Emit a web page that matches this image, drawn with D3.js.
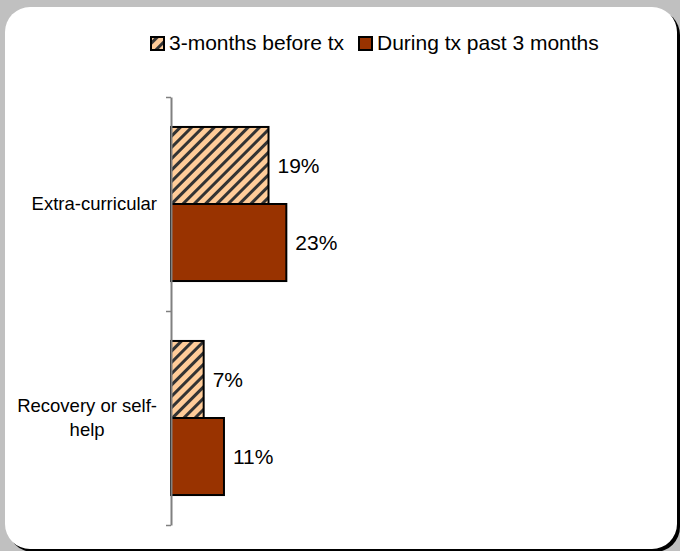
<!DOCTYPE html>
<html><head><meta charset="utf-8">
<script src="https://cdn.jsdelivr.net/npm/d3@7"></script>
<style>
html,body{margin:0;padding:0;background:#c0c0c0;}
svg{display:block;font-family:"Liberation Sans",Arial,sans-serif;}
</style></head>
<body>
<svg id="chart" width="680" height="551"></svg>
<script>
const categories = ["Extra-curricular", "Recovery or self-help"];
const categoryLines = [["Extra-curricular"], ["Recovery or self-", "help"]];
const seriesNames = ["3-months before tx", "During tx past 3 months"];
const before = [19.7, 6.6];
const during = [23.3, 10.7];
const labelsBefore = ["19%", "7%"];
const labelsDuring = ["23%", "11%"];

const svg = d3.select("#chart");
const defs = svg.append("defs");
const pat = defs.append("pattern").attr("id","hatch").attr("patternUnits","userSpaceOnUse")
  .attr("width",8).attr("height",8).attr("patternTransform","rotate(45)");
pat.append("rect").attr("width",8).attr("height",8).attr("fill","#ffcc99");
pat.append("rect").attr("x",0).attr("width",3).attr("height",8).attr("fill","#333333");

// frame
svg.append("rect").attr("x",8).attr("y",10).attr("width",672).attr("height",542).attr("rx",25).attr("fill","#000");
svg.append("rect").attr("x",5).attr("y",7).attr("width",672).attr("height",542).attr("rx",25).attr("fill","#fff");

const x0 = 171;
const x = d3.scaleLinear().domain([0,100]).range([x0, x0+495]);
const y = d3.scaleBand().domain(categories).range([97,525]).paddingInner(0.28).paddingOuter(0.14);
const sub = d3.scaleBand().domain(seriesNames).range([0, y.bandwidth()]);

const colors = ["url(#hatch)", "#993300"];
const data = [];
categories.forEach((c,i)=>{
  data.push({cat:c, s:seriesNames[0], v:before[i], lab:labelsBefore[i], fill:colors[0]});
  data.push({cat:c, s:seriesNames[1], v:during[i], lab:labelsDuring[i], fill:colors[1]});
});

const g = svg.append("g");
g.selectAll("rect.bar").data(data).join("rect").attr("class","bar")
  .attr("x", x(0)).attr("y", d=>y(d.cat)+sub(d.s))
  .attr("width", d=>x(d.v)-x(0)).attr("height", sub.bandwidth())
  .attr("fill", d=>d.fill).attr("stroke","#000").attr("stroke-width",2);

g.selectAll("text.val").data(data).join("text").attr("class","val")
  .attr("x", d=>x(d.v)+9).attr("y", d=>y(d.cat)+sub(d.s)+sub.bandwidth()/2)
  .attr("dy","0.35em").attr("font-size",21).attr("fill","#000").text(d=>d.lab);

// axis with ticks at category boundaries
const yb = d3.scaleLinear().domain([0,categories.length]).range(y.range());
const ax = svg.append("g").attr("transform",`translate(${x0},0)`)
  .call(d3.axisLeft(yb).tickValues(d3.range(categories.length+1)).tickFormat("").tickSize(5).tickSizeOuter(0));
ax.select(".domain").attr("stroke","#808080").attr("stroke-width",2);
ax.selectAll(".tick line").attr("stroke","#808080").attr("stroke-width",1.5);

// category labels
categories.forEach((c,i)=>{
  const lines = categoryLines[i];
  const tg = svg.append("g");
  const texts = lines.map((l,j)=>tg.append("text").attr("font-size",18.5).attr("fill","#000")
    .attr("text-anchor","middle").text(l));
  const maxW = d3.max(texts, t=>t.node().getComputedTextLength());
  const cx = 157 - maxW/2;
  const lh = 24;
  const cy = y(c)+y.bandwidth()/2;
  texts.forEach((t,j)=>{
    t.attr("x",cx).attr("y", cy + (j-(lines.length-1)/2)*lh).attr("dy","0.35em");
  });
});

// legend
const leg = svg.append("g");
const legX = [151, 359];
seriesNames.forEach((s,i)=>{
  leg.append("rect").attr("x",legX[i]).attr("y",37).attr("width",13).attr("height",13)
    .attr("fill",colors[i]).attr("stroke","#000").attr("stroke-width",2);
  leg.append("text").attr("x",legX[i]+18).attr("y",50).attr("font-size",21).attr("fill","#000").text(s);
});
</script>
</body></html>
